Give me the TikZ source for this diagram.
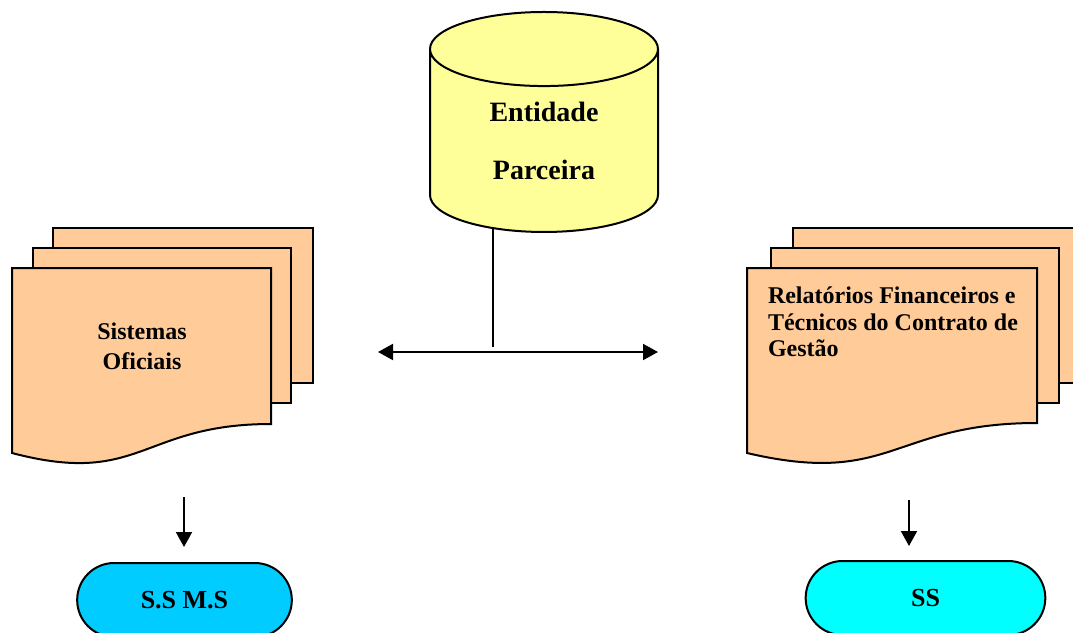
\documentclass[tikz,border=0pt]{standalone}
\usepackage{fontspec}
\setmainfont{Liberation Serif}
\usetikzlibrary{shapes.geometric, shapes.misc, arrows.meta}
\definecolor{docfill}{HTML}{FFCC99}
\definecolor{dbfill}{HTML}{FFFF99}
\definecolor{termblue}{HTML}{00CCFF}
\definecolor{termcyan}{HTML}{00FFFF}

\begin{document}
\begin{tikzpicture}[x=0.5pt, y=-0.5pt, line width=1pt, sheet/.style={draw, fill=docfill}, db/.style={cylinder, shape border rotate=90, aspect=0.68, draw, fill=dbfill, minimum width=114pt, minimum height=110pt, inner sep=0pt, font=\bfseries\fontsize{14}{29}\selectfont, align=center}, term/.style={rounded rectangle, draw, minimum height=37pt, font=\bfseries\fontsize{13}{15}\selectfont}, doctext/.style={font=\bfseries\fontsize{12}{15}\selectfont, inner sep=0pt}, edge/.style={-{Triangle[length=7.5pt, width=8pt]}}, dedge/.style={{Triangle[length=7.5pt, width=8pt]}-{Triangle[length=7.5pt, width=8pt]}}]
		\useasboundingbox (0,0) rectangle (1073,633);
		\clip (0,0) rectangle (1073,633);

		\node (ent)[db] at (544,141){Entidade\\Parceira};

		% left stack
		\filldraw[sheet] (53,228) rectangle (313,383);
		\filldraw[sheet] (33,248) rectangle (291,403);
		\filldraw[sheet] (12,268) -- (271,268) -- (271,424) .. controls (141,424) and (141,487) .. (12,453) -- cycle;
		\node (sisof)[doctext, align=center] at (142,346){Sistemas\\Oficiais};

		% right stack
		\filldraw[sheet] (793,228) rectangle (1090,383);
		\filldraw[sheet] (771,248) rectangle (1059,403);
		\filldraw[sheet] (747,268) -- (1037,268) -- (1037,423) .. controls (892,423) and (892,487) .. (747,453) -- cycle;
		\node (relat)[doctext, align=left, anchor=west, font=\bfseries\fontsize{12}{13.3}\selectfont] at (767,322){Relatórios Financeiros e\\Técnicos do Contrato de\\Gestão};

		\node (ssms)[term, fill=termblue, minimum width=114pt] at (184.5,600){S.S M.S};
		\node (ss)[term, fill=termcyan, minimum width=126.5pt] at (925.5,598){SS};

		\coordinate (entfoot) at (493,228);
		\coordinate (junc) at (493,347);
		\coordinate (larr) at (378,352);
		\coordinate (rarr) at (658,352);
		\coordinate (sisfoot) at (184,497);
		\coordinate (relfoot) at (909,500);

		\draw (entfoot) -- (junc);
		\draw [dedge](larr) -- (rarr);
		\draw [edge, shorten >=7.5pt](sisfoot) -- (sisfoot |- ssms.north);
		\draw [edge, shorten >=7pt](relfoot) -- (relfoot |- ss.north);
	\end{tikzpicture}
\end{document}
